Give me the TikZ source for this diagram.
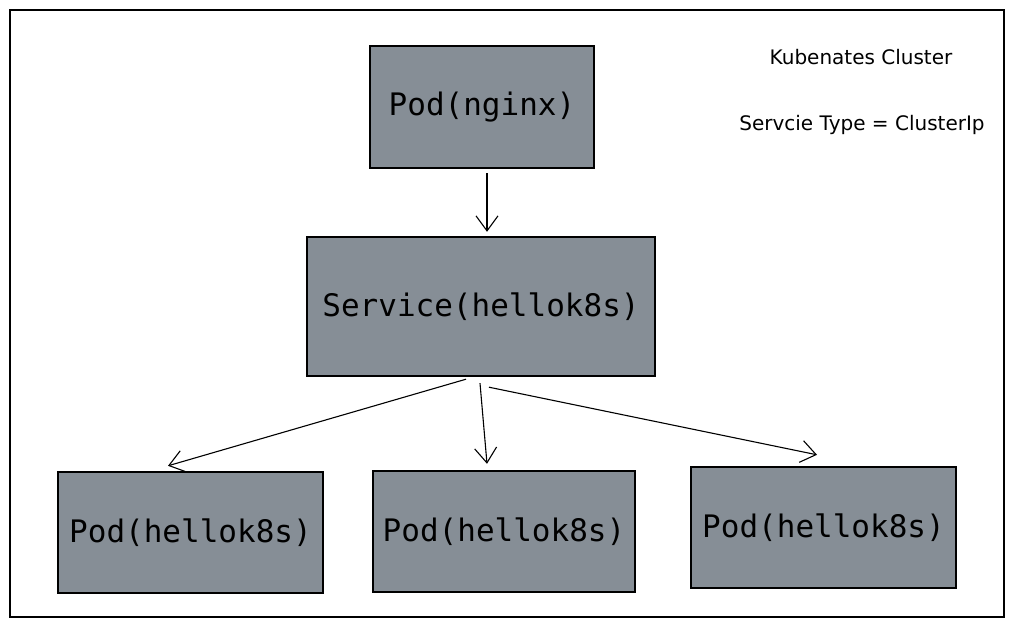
\documentclass[tikz,border=0pt]{standalone}
\usepackage{fontspec}
\setmonofont{DejaVu Sans Mono}
\newfontfamily\hand{DejaVu Sans}
\usetikzlibrary{arrows.meta,calc}
\definecolor{boxgray}{HTML}{868E96}
\begin{document}
\begin{tikzpicture}[x=1pt,y=-1pt,
  box/.style={draw=black,line width=2.4pt,fill=boxgray,inner sep=0pt,font=\ttfamily\fontsize{31}{31}\selectfont},
  conn/.style={draw=black,line width=1.1pt,-{Straight Barb[length=15pt,width=22pt]}},
  note/.style={font=\hand\fontsize{20}{20}\selectfont}]
\useasboundingbox (0,0) rectangle (1014,628);
\draw[line width=1.3pt] (10,10) rectangle (1004,617);
\node[box,minimum width=224pt,minimum height=122pt] (nginx) at (482,107) {Pod(nginx)};
\node[box,minimum width=348pt,minimum height=139pt] (svc) at (481,306.5) {Service(hellok8s)};
\node[box,minimum width=265pt,minimum height=121pt] (p1) at (190.5,532.5) {Pod(hellok8s)};
\node[box,minimum width=262pt,minimum height=121pt] (p2) at (504,531.5) {Pod(hellok8s)};
\node[box,minimum width=265pt,minimum height=121pt] (p3) at (823.5,527.5) {Pod(hellok8s)};
\draw[conn] ($(nginx.south)+(5,4)$) -- ($(svc.north)+(6,-4)$);
\draw[conn] ($(svc.south)+(-15,2)$) -- ($(p1.north)+(-22.5,-5)$);
\draw[conn] ($(svc.south)+(-1,6)$) -- ($(p2.north)+(-17,-6)$);
\draw[conn] ($(svc.south)+(8,10)$) -- ($(p3.north)+(-6.5,-11)$);
\node[note] (title) at (861,57) {Kubenates Cluster};
\node[note] (stype) at (862,125) {Servcie Type = ClusterIp};
\end{tikzpicture}
\end{document}
